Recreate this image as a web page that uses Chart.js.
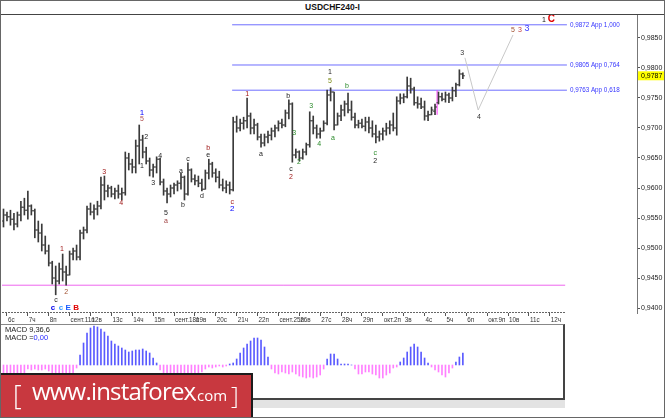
<!DOCTYPE html>
<html>
<head>
<meta charset="utf-8">
<script src="https://cdn.jsdelivr.net/npm/chart.js@4.4.1/dist/chart.umd.min.js"></script>
<style>
  html, body { margin: 0; padding: 0; background: #fff; }
  #page { position: relative; width: 665px; height: 418px; overflow: hidden; background: #fff;
          font-family: "Liberation Sans", Arial, sans-serif; }
  #page > * { position: absolute; }
  #title { left: 0; top: 2px; width: 665px; text-align: center; font-weight: bold; font-size: 8.5px; color: #111; }
  #sep { left: 0; top: 14px; width: 665px; height: 1px; background: #444; }
  #price { left: 0; top: 15px; }
  #macdBox { left: 0; top: 324px; width: 563px; height: 73px; border-top: 1px solid #888;
             border-right: 2px solid #444; border-bottom: 2px solid #444; }
  #macd { left: 2px; top: 325px; }
  #macdLabel { left: 5px; top: 326px; font-size: 7.5px; line-height: 7.5px; color: #222; }
  #macdLabel span { color: #2a2aff; }
  #strip { left: 0; top: 400px; width: 565px; height: 8px; background: #e3e3e3; }
  #banner { left: 0; top: 373px; width: 251px; height: 43px; background: #c8383f;
            border-top: 2px solid #1c1c1c; border-right: 2px solid #1c1c1c; color: #fff;
            font-family: "Open Sans", "Liberation Sans", sans-serif; }
  #banner span { position: absolute; white-space: nowrap; line-height: 1; }
  #frame { left: 0; top: 0; width: 663px; height: 416px; border: 1px solid #666; }
</style>
</head>
<body>
<div id="page">
  <div id="title">USDCHF240-I</div>
  <div id="sep"></div>
  <canvas id="price" width="665" height="309"></canvas>
  <div id="macdBox"></div>
  <canvas id="macd" width="562" height="73"></canvas>
  <div id="macdLabel">MACD 9,36,6<br>MACD =<span>0,00</span></div>
  <div id="strip"></div>
  <div id="banner">
    <span style="left:13px;top:6px;font-size:27px;font-weight:300;">[</span>
    <span style="left:32px;top:4px;font-size:24px;letter-spacing:-0.8px;">www.instaforex</span>
    <span style="left:193px;top:13px;font-size:15px;">.com</span>
    <span style="left:231px;top:8px;font-size:24px;font-weight:300;">]</span>
  </div>
  <div id="frame"></div>
</div>
<script>
// H4 bars, 5 Sep 20:00 .. 5 Oct 20:00
const opens = [
  0.9545, 0.9555, 0.9552, 0.9548, 0.9540, 0.9555, 0.9568, 0.9563, 0.9570, 0.9562,
  0.9530, 0.9525, 0.9505, 0.9495, 0.9475, 0.9450, 0.9445, 0.9465, 0.9460, 0.9455,
  0.9490, 0.9495, 0.9485, 0.9525, 0.9530, 0.9565, 0.9560, 0.9565, 0.9570, 0.9605,
  0.9595, 0.9600, 0.9590, 0.9595, 0.9590, 0.9592, 0.9650, 0.9640, 0.9635, 0.9670,
  0.9680, 0.9660, 0.9645, 0.9630, 0.9635, 0.9648, 0.9610, 0.9595, 0.9590, 0.9600,
  0.9605, 0.9608, 0.9618, 0.9590, 0.9630, 0.9615, 0.9612, 0.9608, 0.9598, 0.9625,
  0.9640, 0.9625, 0.9618, 0.9605, 0.9600, 0.9605, 0.9597, 0.9710, 0.9700, 0.9708,
  0.9712, 0.9720, 0.9700, 0.9705, 0.9685, 0.9675, 0.9685, 0.9688, 0.9695, 0.9700,
  0.9708, 0.9705, 0.9725, 0.9740, 0.9655, 0.9660, 0.9650, 0.9660, 0.9672, 0.9712,
  0.9700, 0.9690, 0.9695, 0.9708, 0.9755, 0.9760, 0.9705, 0.9720, 0.9730, 0.9740,
  0.9730, 0.9718, 0.9705, 0.9708, 0.9703, 0.9710, 0.9700, 0.9690, 0.9685, 0.9690,
  0.9695, 0.9700, 0.9705, 0.9700, 0.9745, 0.9750, 0.9752, 0.9770, 0.9765, 0.9742,
  0.9740, 0.9735, 0.9720, 0.9722, 0.9728, 0.9742, 0.9752, 0.9748, 0.9755, 0.9750,
  0.9762, 0.9772, 0.9790
];
const highs = [
  0.9565, 0.9560, 0.9563, 0.9558, 0.9560, 0.9578, 0.9583, 0.9595, 0.9572, 0.9565,
  0.9545, 0.9540, 0.9520, 0.9505, 0.9478, 0.9470, 0.9475, 0.9490, 0.9470, 0.9495,
  0.9500, 0.9505, 0.9530, 0.9535, 0.9570, 0.9575, 0.9572, 0.9578, 0.9618, 0.9620,
  0.9605, 0.9603, 0.9600, 0.9605, 0.9600, 0.9660, 0.9658, 0.9648, 0.9680, 0.9705,
  0.9688, 0.9668, 0.9650, 0.9640, 0.9652, 0.9650, 0.9615, 0.9600, 0.9605, 0.9608,
  0.9612, 0.9625, 0.9620, 0.9642, 0.9632, 0.9622, 0.9620, 0.9615, 0.9630, 0.9648,
  0.9643, 0.9632, 0.9628, 0.9615, 0.9612, 0.9610, 0.9718, 0.9720, 0.9715, 0.9718,
  0.9750, 0.9725, 0.9715, 0.9708, 0.9690, 0.9690, 0.9695, 0.9700, 0.9705, 0.9712,
  0.9715, 0.9730, 0.9747, 0.9742, 0.9665, 0.9662, 0.9665, 0.9675, 0.9727, 0.9720,
  0.9705, 0.9700, 0.9712, 0.9763, 0.9767, 0.9760, 0.9725, 0.9738, 0.9745, 0.9758,
  0.9745, 0.9725, 0.9713, 0.9715, 0.9718, 0.9718, 0.9712, 0.9705, 0.9695, 0.9700,
  0.9708, 0.9712, 0.9725, 0.9752, 0.9757, 0.9757, 0.9785, 0.9783, 0.9768, 0.9752,
  0.9750, 0.9745, 0.9728, 0.9735, 0.9740, 0.9760, 0.9758, 0.9760, 0.9758, 0.9768,
  0.9775, 0.9797, 0.9792
];
const lows = [
  0.9535, 0.9545, 0.9538, 0.9530, 0.9535, 0.9545, 0.9555, 0.9548, 0.9555, 0.9517,
  0.9510, 0.9495, 0.9490, 0.9470, 0.9440, 0.9422, 0.9440, 0.9445, 0.9438, 0.9455,
  0.9480, 0.9480, 0.9480, 0.9515, 0.9525, 0.9555, 0.9548, 0.9555, 0.9565, 0.9580,
  0.9585, 0.9585, 0.9582, 0.9583, 0.9580, 0.9588, 0.9630, 0.9625, 0.9625, 0.9640,
  0.9650, 0.9640, 0.9620, 0.9618, 0.9625, 0.9605, 0.9588, 0.9575, 0.9585, 0.9590,
  0.9595, 0.9598, 0.9580, 0.9588, 0.9610, 0.9605, 0.9602, 0.9595, 0.9598, 0.9615,
  0.9618, 0.9610, 0.9600, 0.9595, 0.9592, 0.9590, 0.9595, 0.9693, 0.9695, 0.9698,
  0.9700, 0.9690, 0.9690, 0.9680, 0.9668, 0.9670, 0.9675, 0.9680, 0.9685, 0.9695,
  0.9700, 0.9702, 0.9715, 0.9643, 0.9650, 0.9645, 0.9648, 0.9655, 0.9668, 0.9690,
  0.9683, 0.9683, 0.9695, 0.9705, 0.9745, 0.9697, 0.9705, 0.9712, 0.9720, 0.9725,
  0.9713, 0.9700, 0.9700, 0.9700, 0.9695, 0.9692, 0.9685, 0.9675, 0.9678, 0.9680,
  0.9688, 0.9690, 0.9695, 0.9688, 0.9740, 0.9742, 0.9750, 0.9758, 0.9738, 0.9733,
  0.9732, 0.9713, 0.9712, 0.9722, 0.9722, 0.9740, 0.9745, 0.9743, 0.9742, 0.9745,
  0.9752, 0.9770, 0.9782
];
const closes = [
  0.9555, 0.9552, 0.9548, 0.9540, 0.9555, 0.9568, 0.9563, 0.9570, 0.9562, 0.9530,
  0.9525, 0.9505, 0.9495, 0.9475, 0.9450, 0.9445, 0.9465, 0.9460, 0.9455, 0.9490,
  0.9495, 0.9485, 0.9525, 0.9530, 0.9565, 0.9560, 0.9565, 0.9570, 0.9605, 0.9595,
  0.9600, 0.9590, 0.9595, 0.9590, 0.9592, 0.9650, 0.9640, 0.9635, 0.9670, 0.9680,
  0.9660, 0.9645, 0.9630, 0.9635, 0.9648, 0.9610, 0.9595, 0.9590, 0.9600, 0.9605,
  0.9608, 0.9618, 0.9590, 0.9630, 0.9615, 0.9612, 0.9608, 0.9598, 0.9625, 0.9640,
  0.9625, 0.9618, 0.9605, 0.9600, 0.9605, 0.9597, 0.9710, 0.9700, 0.9708, 0.9712,
  0.9720, 0.9700, 0.9705, 0.9685, 0.9675, 0.9685, 0.9688, 0.9695, 0.9700, 0.9708,
  0.9705, 0.9725, 0.9740, 0.9655, 0.9660, 0.9650, 0.9660, 0.9672, 0.9712, 0.9700,
  0.9690, 0.9695, 0.9708, 0.9755, 0.9760, 0.9705, 0.9720, 0.9730, 0.9740, 0.9730,
  0.9718, 0.9705, 0.9708, 0.9703, 0.9710, 0.9700, 0.9690, 0.9685, 0.9690, 0.9695,
  0.9700, 0.9705, 0.9700, 0.9745, 0.9750, 0.9752, 0.9770, 0.9765, 0.9742, 0.9740,
  0.9735, 0.9720, 0.9722, 0.9730, 0.9735, 0.9752, 0.9748, 0.9755, 0.9750, 0.9762,
  0.9772, 0.9790, 0.9787
];
// MACD(9,36,6) histogram, in pips
const macdPips = [
  -12, -12, -11, -11, -10, -9, -9, -4, -5, -4,
  -5, -5, -4, -6, -10, -12, -14, -14, -13, -12,
  -11, -3, 10, 22, 32, 37, 39, 38, 36, 33,
  29, 24, 21, 19, 17, 15, 13, 14, 15, 15,
  16, 14, 12, 7, 2, -5, -10, -12, -12, -11,
  -11, -10, -10, -9, -9, -8, -8, -7, -4, -2,
  -3, -2, -1, -2, -1, 1, 2, 6, 12, 17,
  21, 24, 27, 27, 25, 18, 8, -4, -8, -9,
  -7, -8, -9, -7, -9, -11, -12, -13, -12, -13,
  -12, -10, -4, 6, 11, 11, 6, 1, 1, 1,
  0, -4, -9, -9, -7, -7, -9, -10, -13, -13,
  -10, -8, -3, -2, 3, 7, 13, 18, 21, 18,
  13, 7, 2, -2, -5, -7, -10, -12, -8, -3,
  3, 8, 12
];

// time axis: first bar of each day (bar index) and its label
const dayStarts = [1, 7, 13, 19, 25, 31, 37, 43, 49, 55, 61, 67, 73, 79, 85, 91, 97, 103, 109, 115, 121, 127, 133, 139, 145, 151, 157];
const dayLabels = ['6с', '7ч', '8п', 'сент.11п', '12в', '13с', '14ч', '15п', 'сент.18п', '19в', '20с', '21ч', '22п',
  'сент.25п', '26в', '27с', '28ч', '29п', 'окт.2п', '3в', '4с', '5ч', '6п', 'окт.9п', '10в', '11с', '12ч'];
const priceTicks = [0.9400, 0.9450, 0.9500, 0.9550, 0.9600, 0.9650, 0.9700, 0.9750, 0.9800, 0.9850];
const priceMin = 0.93917, priceMax = 0.98883;
const macdMin = -33, macdMax = 40;

// Fibonacci targets and the support line
const levels = [0.9872, 0.9805, 0.9763];
const levelRatios = ['1,000', '0,764', '0,618'];
const levelFrom = 65.7, levelTo = 161.9;
const supportLevel = 0.9438;
const axisEnd = 161.4;

// forecast path 3 -> 4 -> 5
const forecastIdx = [132.6, 136.4, 146.4];
const forecastPrice = [0.9817, 0.9730, 0.9855];

// wave counts: bar index, price, text, colour, size
const waveLabels = [
  { i: 16.8, p: 0.9498, t: '1', c: '#a01818' },
  { i: 18.0, p: 0.9427, t: '2', c: '#a05030' },
  { i: 15.1, p: 0.9413, t: 'c', c: '#222' },
  { i: 14.2, p: 0.9401, t: 'c', c: '#0000ee', s: 8, b: true },
  { i: 16.5, p: 0.9401, t: 'c', c: '#3399ff', s: 8, b: true },
  { i: 18.6, p: 0.9401, t: 'E', c: '#1a5cff', s: 8, b: true },
  { i: 20.9, p: 0.9401, t: 'B', c: '#e00000', s: 8, b: true },
  { i: 28.9, p: 0.9627, t: '3', c: '#a01818' },
  { i: 33.8, p: 0.9575, t: '4', c: '#a01818' },
  { i: 39.8, p: 0.9725, t: '1', c: '#0000ff', s: 8 },
  { i: 39.8, p: 0.9715, t: '5', c: '#b05050' },
  { i: 41.0, p: 0.9685, t: '2', c: '#222' },
  { i: 39.8, p: 0.9637, t: '1', c: '#222' },
  { i: 45.0, p: 0.9653, t: '4', c: '#222' },
  { i: 43.0, p: 0.9608, t: '3', c: '#222' },
  { i: 46.7, p: 0.9558, t: '5', c: '#222' },
  { i: 46.7, p: 0.9545, t: 'a', c: '#a04040' },
  { i: 51.0, p: 0.9628, t: 'a', c: '#222' },
  { i: 51.6, p: 0.9572, t: 'b', c: '#222' },
  { i: 53.0, p: 0.9648, t: 'c', c: '#222' },
  { i: 57.0, p: 0.9587, t: 'd', c: '#222' },
  { i: 58.8, p: 0.9667, t: 'b', c: '#a01818' },
  { i: 58.8, p: 0.9655, t: 'e', c: '#222' },
  { i: 65.7, p: 0.9577, t: 'c', c: '#a01818' },
  { i: 65.7, p: 0.9566, t: '2', c: '#0000ff', s: 8 },
  { i: 70.0, p: 0.9757, t: '1', c: '#a01818' },
  { i: 74.0, p: 0.9657, t: 'a', c: '#222' },
  { i: 81.8, p: 0.9753, t: 'b', c: '#222' },
  { i: 83.5, p: 0.9692, t: '3', c: '#2a8a2a' },
  { i: 82.6, p: 0.9632, t: 'c', c: '#222' },
  { i: 82.6, p: 0.9618, t: '2', c: '#a01818' },
  { i: 84.9, p: 0.9643, t: '2', c: '#2a8a2a' },
  { i: 88.4, p: 0.9737, t: '3', c: '#2a8a2a' },
  { i: 90.7, p: 0.9673, t: '4', c: '#2a8a2a' },
  { i: 93.8, p: 0.9793, t: '1', c: '#222' },
  { i: 93.8, p: 0.9778, t: '5', c: '#7a8a10' },
  { i: 94.7, p: 0.9683, t: 'a', c: '#2a8a2a' },
  { i: 98.7, p: 0.9770, t: 'b', c: '#2a8a2a' },
  { i: 106.8, p: 0.9658, t: 'c', c: '#2a8a2a' },
  { i: 106.8, p: 0.9645, t: '2', c: '#222' },
  { i: 131.8, p: 0.9825, t: '3', c: '#333' },
  { i: 136.6, p: 0.9718, t: '4', c: '#333' },
  { i: 146.4, p: 0.9863, t: '5', c: '#a05030' },
  { i: 148.4, p: 0.9863, t: '3', c: '#c04040' },
  { i: 150.4, p: 0.9865, t: '3', c: '#4040ff', s: 9 },
  { i: 155.3, p: 0.9880, t: '1', c: '#111' },
  { i: 157.4, p: 0.9882, t: 'C', c: '#e00000', s: 10, b: true }
];

const BAR_PX = 3.48;
const xMin = -0.431;
const fmt = v => v.toFixed(4).replace('.', ',');
const idx = highs.map((_, i) => i);
const barColor = '#3a3a3a';

Chart.defaults.font.family = '"Liberation Sans", Arial, sans-serif';

const overlay = {
  id: 'overlay',
  afterDraw(chart) {
    const { ctx, chartArea } = chart;
    const x = chart.scales.x, y = chart.scales.y;
    ctx.save();
    // dotted time axis, stops at the last date tick
    ctx.strokeStyle = '#666';
    ctx.lineWidth = 1;
    ctx.setLineDash([2, 1]);
    ctx.beginPath();
    ctx.moveTo(chartArea.left, Math.round(chartArea.bottom) - 0.5);
    ctx.lineTo(x.getPixelForValue(axisEnd), Math.round(chartArea.bottom) - 0.5);
    ctx.stroke();
    ctx.setLineDash([]);

    ctx.textAlign = 'center';
    ctx.textBaseline = 'middle';
    waveLabels.forEach(l => {
      ctx.font = (l.b ? 'bold ' : '') + (l.s || 7) + 'px "Liberation Sans", Arial, sans-serif';
      ctx.fillStyle = l.c;
      ctx.fillText(l.t, x.getPixelForValue(l.i), y.getPixelForValue(l.p));
    });

    ctx.textAlign = 'left';
    ctx.font = '6.3px "Liberation Sans", Arial, sans-serif';
    ctx.fillStyle = '#3535ff';
    levels.forEach((v, k) => {
      ctx.fillText(fmt(v) + ' App ' + levelRatios[k], x.getPixelForValue(levelTo) + 3, y.getPixelForValue(v));
    });

    // last price marker on the scale
    const last = closes[closes.length - 1];
    const py = y.getPixelForValue(last);
    ctx.fillStyle = '#ffff00';
    ctx.fillRect(chartArea.right + 1, py - 4.5, chart.width - chartArea.right - 1, 9);
    ctx.fillStyle = '#000';
    ctx.font = '7px "Liberation Sans", Arial, sans-serif';
    ctx.fillText(fmt(last), chartArea.right + 4, py + 0.5);
    ctx.restore();
  }
};

const lineSet = (pts, color) => ({
  type: 'line', data: pts, borderColor: color, borderWidth: 1,
  pointRadius: 0, pointHoverRadius: 0, tension: 0, fill: false
});

const tickSet = (pts) => ({
  type: 'scatter', data: pts, pointStyle: 'line', pointRadius: 1, pointHoverRadius: 0,
  pointBorderColor: barColor, pointBorderWidth: 1
});

const priceSets = [
  { type: 'bar', data: idx.map(i => ({ x: i, y: [lows[i], highs[i]] })),
    backgroundColor: barColor, barThickness: 1, borderWidth: 0 },
  tickSet(idx.map(i => ({ x: i - 0.29, y: opens[i] }))),
  tickSet(idx.map(i => ({ x: i + 0.29, y: closes[i] }))),
  lineSet([{ x: -1, y: supportLevel }, { x: axisEnd, y: supportLevel }], '#ee66ee'),
  lineSet([{ x: 124.6, y: 0.9722 }, { x: 124.6, y: levels[2] }], '#ff33ff'),
  lineSet(forecastIdx.map((v, k) => ({ x: v, y: forecastPrice[k] })), '#c8c8c8')
];
levels.forEach(v => priceSets.push(lineSet([{ x: levelFrom, y: v }, { x: levelTo, y: v }], '#6e6eff')));

new Chart(document.getElementById('price'), {
  type: 'bar',
  data: { datasets: priceSets },
  plugins: [overlay],
  options: {
    responsive: false,
    animation: false,
    devicePixelRatio: 1,
    layout: { padding: { left: 2, top: 0, right: 0, bottom: 0 }, autoPadding: false },
    plugins: { legend: { display: false }, tooltip: { enabled: false } },
    scales: {
      x: {
        type: 'linear',
        offset: false,
        min: xMin,
        max: xMin + 635 / BAR_PX,
        afterFit: s => { s.height = 11; s.paddingLeft = 0; s.paddingRight = 0; },
        afterBuildTicks: s => { s.ticks = dayStarts.map(v => ({ value: v })); },
        grid: { offset: false, drawOnChartArea: false, drawTicks: true, tickLength: 3, color: '#555' },
        border: { display: false },
        ticks: {
          autoSkip: false, maxRotation: 0, align: 'start', labelOffset: 1, padding: 0,
          font: { size: 6.3 }, color: '#333',
          callback: (v, k) => dayLabels[k]
        }
      },
      y: {
        position: 'right',
        min: priceMin,
        max: priceMax,
        afterFit: s => { s.width = 28; s.paddingTop = 0; s.paddingBottom = 0; },
        afterBuildTicks: s => { s.ticks = priceTicks.map(v => ({ value: v })); },
        grid: { drawOnChartArea: false, drawTicks: true, tickLength: 3, color: '#555' },
        border: { display: true, color: '#777' },
        ticks: { padding: 1, font: { size: 7 }, color: '#222', callback: v => fmt(v) }
      }
    }
  }
});

new Chart(document.getElementById('macd'), {
  type: 'bar',
  data: {
    datasets: [{
      data: idx.map(i => ({ x: i, y: macdPips[i] })),
      backgroundColor: macdPips.map(v => (v >= 0 ? '#5a5aff' : '#ff80ff')),
      barThickness: 1,
      borderWidth: 0
    }]
  },
  options: {
    responsive: false,
    animation: false,
    devicePixelRatio: 1,
    layout: { padding: 0, autoPadding: false },
    plugins: { legend: { display: false }, tooltip: { enabled: false } },
    scales: {
      x: { type: 'linear', offset: false, display: false, min: xMin, max: xMin + 562 / BAR_PX },
      y: { display: false, min: macdMin, max: macdMax }
    }
  }
});
</script>
</body>
</html>
